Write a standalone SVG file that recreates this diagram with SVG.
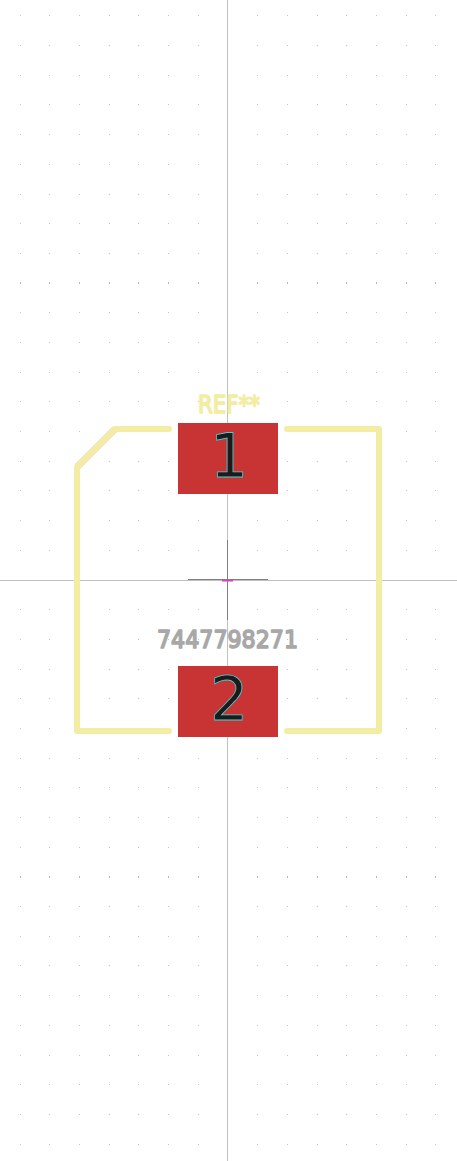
<svg xmlns="http://www.w3.org/2000/svg" width="457" height="1161" viewBox="0 0 457 1161">
<style>
.silk{fill:none;stroke:#f3eda3;stroke-width:6;stroke-linecap:round;stroke-linejoin:round}
.fringe{fill:none;stroke:#f8d4cc;stroke-width:7;stroke-linecap:butt}
.pad{fill:#c83434}
.num{font-family:"DejaVu Sans",sans-serif;font-size:60px;text-anchor:middle;fill:#1e1a1a;stroke:#3fd0d8;stroke-width:.8}
.lbl{font-family:"DejaVu Sans",sans-serif;font-weight:400;font-size:25px;stroke-width:1.7;stroke-linejoin:round;text-anchor:start}
</style>
<defs>
<path id="r" d="M20 .5h1M49 .5h1M79 .5h1M109 .5h1M138 .5h1M168 .5h1M198 .5h1M257 .5h1M287 .5h1M317 .5h1M346 .5h1M376 .5h1M406 .5h1M435 .5h1" stroke="#c4c4c4" stroke-width="1" fill="none"/>
<path id="R" d="M20 1h1M49 1h1M79 1h1M109 1h1M138 1h1M168 1h1M198 1h1M257 1h1M287 1h1M317 1h1M346 1h1M376 1h1M406 1h1M435 1h1" stroke="#b4b4b4" stroke-width="2" fill="none"/>
</defs>
<rect width="457" height="1161" fill="#ffffff"/>
<g id="grid">
<use href="#r" y="15"/><use href="#r" y="45"/><use href="#r" y="75"/><use href="#r" y="104"/><use href="#r" y="134"/><use href="#r" y="164"/><use href="#r" y="194"/><use href="#r" y="223"/><use href="#r" y="253"/><use href="#R" y="282"/><use href="#r" y="312"/><use href="#r" y="342"/><use href="#r" y="372"/><use href="#r" y="401"/><use href="#r" y="431"/><use href="#r" y="461"/><use href="#r" y="490"/><use href="#r" y="520"/><use href="#r" y="550"/><use href="#r" y="609"/><use href="#r" y="639"/><use href="#r" y="669"/><use href="#r" y="698"/><use href="#r" y="728"/><use href="#r" y="758"/><use href="#r" y="787"/><use href="#r" y="817"/><use href="#r" y="847"/><use href="#R" y="876"/><use href="#r" y="906"/><use href="#r" y="936"/><use href="#r" y="965"/><use href="#r" y="995"/><use href="#r" y="1025"/><use href="#r" y="1055"/><use href="#r" y="1084"/><use href="#r" y="1114"/><use href="#r" y="1144"/>
</g>
<g id="axes">
<rect x="227" y="0" width="1" height="1161" fill="#c0c0c0"/>
<rect x="0" y="580" width="457" height="1" fill="#c0c0c0"/>
</g>
<g id="anchor">
<rect x="188" y="579" width="80" height="1" fill="#808080"/>
<rect x="227" y="540" width="1" height="80" fill="#808080"/>
<rect x="222" y="580" width="11" height="1.5" fill="#f030d0"/>
</g>
<g id="silk">
<path class="fringe" d="M77 467L115 429"/>
<path class="silk" d="M169 429H115L77 467V731H169"/>
<path class="silk" d="M287 429H379V731H287"/>
</g>
<g id="pad1">
<rect class="pad" x="178" y="423" width="100" height="71"/>
<text class="num" x="229" y="477">1</text>
</g>
<g id="pad2">
<rect class="pad" x="178" y="666" width="100" height="71"/>
<text class="num" x="229" y="720">2</text>
</g>
<g id="ref">
<text class="lbl" x="198" y="413" fill="#f3eda3" stroke="#f3eda3" textLength="62" lengthAdjust="spacingAndGlyphs">REF**</text>
</g>
<g id="value">
<text class="lbl" x="157" y="648" fill="#a8a8a8" stroke="#a8a8a8" textLength="141" lengthAdjust="spacingAndGlyphs">7447798271</text>
</g>
</svg>
